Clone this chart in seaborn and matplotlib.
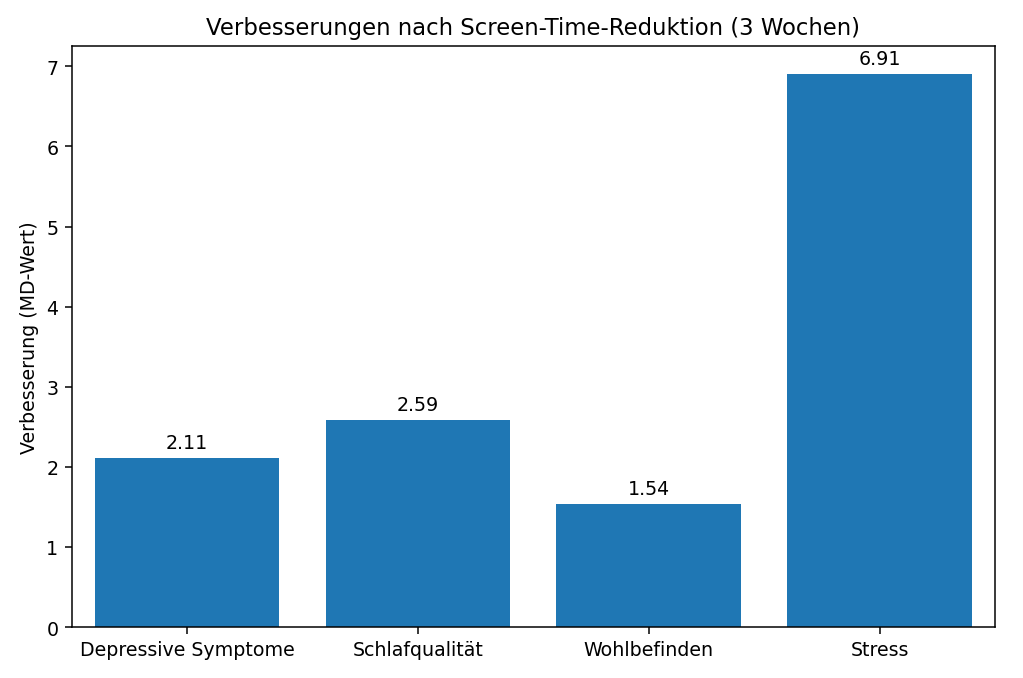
import pandas as pd
import seaborn as sns
import matplotlib
matplotlib.use("Agg")
import matplotlib.pyplot as plt

# data
categories = ["Depressive Symptome", "Schlafqualität", "Wohlbefinden", "Stress"]
improvement = [2.11, 2.59, 1.54, 6.91]

df = pd.DataFrame({"category": categories, "value": improvement})

fig, ax = plt.subplots(figsize=(7.5, 4.974), dpi=136.5)
sns.barplot(data=df, x="category", y="value", color="#1f77b4", saturation=1,
            width=0.8, ax=ax, errorbar=None)
ax.bar_label(ax.containers[0], fmt="%.2f", padding=3)
ax.set_title("Verbesserungen nach Screen-Time-Reduktion (3 Wochen)")
ax.set_xlabel("")
ax.set_ylabel("Verbesserung (MD-Wert)")
fig.subplots_adjust(left=0.070, right=0.972, top=0.931, bottom=0.075)
fig.savefig("out.png", dpi=136.5)
